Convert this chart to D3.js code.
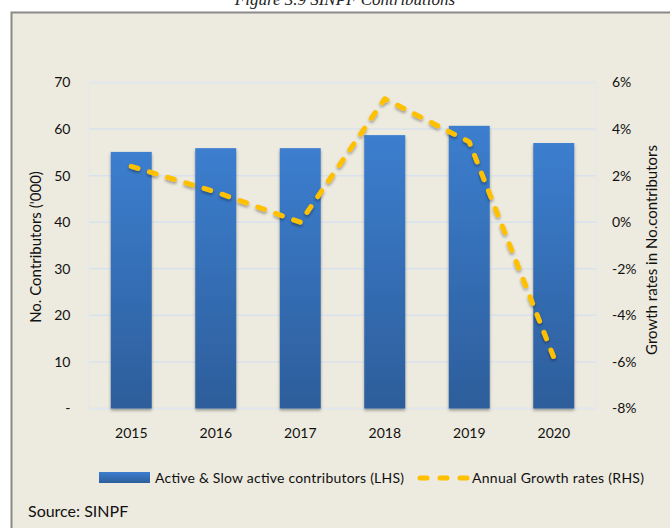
<!DOCTYPE html>
<html><head><meta charset="utf-8">
<script src="https://cdn.jsdelivr.net/npm/d3@7"></script>
<style>body{margin:0;background:#fff}svg{display:block}</style>
</head><body>
<script>
const years = ["2015","2016","2017","2018","2019","2020"];
const contributors = [55.1, 55.9, 55.9, 58.7, 60.7, 57.0];
const growth = [2.4, 1.3, 0.0, 5.3, 3.45, -5.8];
const leftTicks = [0,10,20,30,40,50,60,70];
const rightTicks = [-8,-6,-4,-2,0,2,4,6];
const title = "Figure 3.9 SINPF Contributions";
const legendLabels = ["Active & Slow active contributors (LHS)", "Annual Growth rates (RHS)"];

(function(){
const W = 670, H = 528;
const font = "Lato, 'Open Sans', sans-serif";
const svg = d3.select("body").append("svg").attr("width", W).attr("height", H);
const defs = svg.append("defs");
const grad = defs.append("linearGradient").attr("id","bg").attr("x1",0).attr("y1",0).attr("x2",0).attr("y2",1);
grad.append("stop").attr("offset","0%").attr("stop-color","#3C7ECF");
grad.append("stop").attr("offset","100%").attr("stop-color","#2D5E9B");
const sh = defs.append("filter").attr("id","sh").attr("x","-20%").attr("y","-20%").attr("width","140%").attr("height","140%");
sh.append("feDropShadow").attr("dx",0).attr("dy",2).attr("stdDeviation",1.5).attr("flood-color","#000").attr("flood-opacity",0.35);

svg.append("rect").attr("width",W).attr("height",H).attr("fill","#fff");
svg.append("text").attr("x",345).attr("y",5).attr("text-anchor","middle")
  .attr("font-family","'Liberation Serif', serif").attr("font-style","italic").attr("font-size",17)
  .attr("fill","#222").text(title);
svg.append("rect").attr("x",11.5).attr("y",12.5).attr("width",W+20).attr("height",H+20)
  .attr("fill","#EDEADF").attr("stroke","#8a8a8a").attr("stroke-width",2);

const pL = 89, pR = 596, pT = 82.5, pB = 408.5;
const x = d3.scaleBand().domain(years).range([pL,pR]).paddingInner(0.515).paddingOuter(0.2575);
const y = d3.scaleLinear().domain([0,70]).range([pB,pT]);
const y2 = d3.scaleLinear().domain([-8,6]).range([pB,pT]);

svg.append("g").selectAll("line").data(leftTicks).join("line")
  .attr("x1",pL).attr("x2",pR).attr("y1",d=>y(d)).attr("y2",d=>y(d))
  .attr("stroke","#D8E2EE").attr("stroke-width",1.5);
svg.append("rect").attr("x",pL).attr("y",pT).attr("width",pR-pL).attr("height",pB-pT)
  .attr("fill","none").attr("stroke","#E2E8EF").attr("stroke-width",1.2);

svg.append("g").selectAll("rect").data(contributors).join("rect")
  .attr("x",(d,i)=>x(years[i])).attr("width",x.bandwidth())
  .attr("y",d=>y(d)).attr("height",d=>y(0)-y(d))
  .attr("fill","url(#bg)").attr("filter","url(#sh)");

const line = d3.line().x((d,i)=>x(years[i])+x.bandwidth()/2).y(d=>y2(d));
svg.append("path").datum(growth).attr("d",line).attr("fill","none")
  .attr("stroke","#FFC000").attr("stroke-width",5).attr("stroke-linecap","round")
  .attr("stroke-linejoin","round").attr("stroke-dasharray","7 12").attr("filter","url(#sh)");

const ax = d3.axisLeft(y).tickValues(leftTicks).tickSize(0).tickPadding(18.5).tickFormat(d=>d===0?"-":String(d));
const gL = svg.append("g").attr("transform",`translate(${pL},0)`).call(ax);
gL.select(".domain").remove();
gL.selectAll("text").attr("font-family",font).attr("font-size",14).attr("fill","#111");

const ax2 = d3.axisRight(y2).tickValues(rightTicks).tickSize(0).tickPadding(16).tickFormat(d=>String(d)+"%");
const gR = svg.append("g").attr("transform",`translate(${pR},0)`).call(ax2);
gR.select(".domain").remove();
gR.selectAll("text").attr("font-family",font).attr("font-size",14).attr("fill","#111");

const axB = d3.axisBottom(x).tickSize(0).tickPadding(20);
const gB = svg.append("g").attr("transform",`translate(0,${pB})`).call(axB);
gB.select(".domain").remove();
gB.selectAll("text").attr("font-family",font).attr("font-size",14).attr("fill","#111");

svg.append("text").attr("transform","translate(41,247) rotate(-90)").attr("text-anchor","middle")
  .attr("font-family",font).attr("font-size",15).attr("fill","#111").text("No. Contributors ('000)");
svg.append("text").attr("transform","translate(657,250) rotate(-90)").attr("text-anchor","middle")
  .attr("font-family",font).attr("font-size",15).attr("fill","#111").text("Growth rates in No.contributors");

svg.append("rect").attr("x",99).attr("y",472).attr("width",51).attr("height",11).attr("fill","url(#bg)");
svg.append("text").attr("x",155).attr("y",483).attr("font-family",font).attr("font-size",14)
  .attr("fill","#111").attr("textLength",249).text(legendLabels[0]);
svg.append("line").attr("x1",420).attr("x2",467).attr("y1",478).attr("y2",478)
  .attr("stroke","#FFC000").attr("stroke-width",5).attr("stroke-linecap","round").attr("stroke-dasharray","7 13");
svg.append("text").attr("x",472).attr("y",483).attr("font-family",font).attr("font-size",14)
  .attr("fill","#111").attr("textLength",172).text(legendLabels[1]);

svg.append("text").attr("x",28).attr("y",517).attr("font-family",font).attr("font-size",16)
  .attr("fill","#111").text("Source: SINPF");
})();
</script>
</body></html>
